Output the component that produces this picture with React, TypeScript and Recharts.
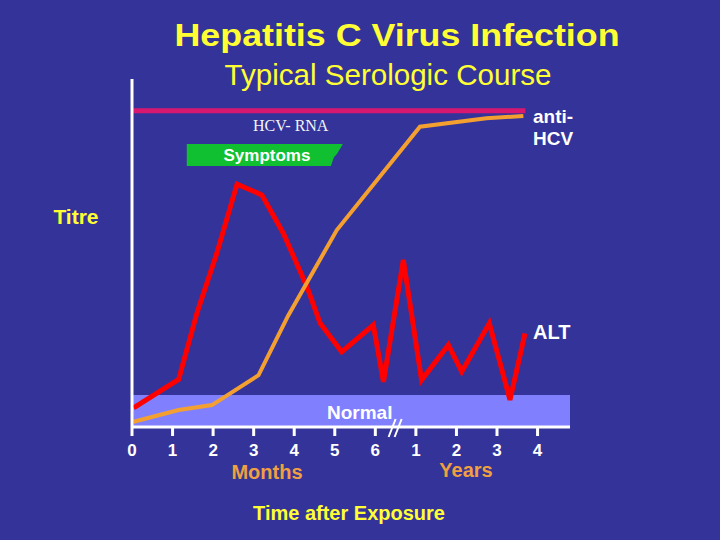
import { LineChart, Line, XAxis, YAxis, ReferenceArea, ReferenceDot } from 'recharts';

// x axis: 0-6 are months, 7-10 stand for years 1-4 after the break
const tickValues = [0, 1, 2, 3, 4, 5, 6, 7, 8, 9, 10];
const tickLabels = ['0', '1', '2', '3', '4', '5', '6', '1', '2', '3', '4'];

// ALT (red)
const altX = [0.04, 1.15, 1.6, 2.09, 2.59, 3.2, 3.73, 4.31, 4.64, 5.17, 5.95, 6.2, 6.69, 7.14, 7.8, 8.13, 8.81, 9.32, 9.69];
const altY = [5.5, 13.7, 32.7, 49.9, 69.8, 66.7, 55.7, 40.4, 29.8, 21.6, 29.3, 13.0, 48.0, 13.5, 23.6, 15.9, 29.8, 7.8, 26.9];

// anti-HCV (orange)
const antiX = [0.04, 1.15, 1.97, 3.12, 3.85, 5.05, 7.1, 8.74, 9.65];
const antiY = [1.5, 4.9, 6.3, 14.9, 32.0, 56.6, 86.3, 88.7, 89.4];

// HCV-RNA (magenta)
const rnaX = [0.03, 9.7];
const rnaY = [90.9, 90.9];

const normalX = [0, 10.8];
const normalY = [0, 9.2];
const symptomsX = [1.35, 5.2];
const symptomsY = [75, 81.3];

const toRows = (xs: number[], ys: number[]) => xs.map((x, i) => ({ x, y: ys[i] }));
const altData = toRows(altX, altY);
const antiData = toRows(antiX, antiY);
const rnaData = toRows(rnaX, rnaY);

const YELLOW = '#ffff33';
const ORANGE = '#f0a040';

const Tick = (props: any) => {
  const { x, y, payload } = props;
  return (
    <text x={x} y={y + 18} textAnchor="middle" fill="#fff" fontSize={17} fontWeight="bold">
      {tickLabels[payload.value]}
    </text>
  );
};

const SymptomsShape = (props: any) => {
  const { x, y, width, height } = props;
  const pts = [
    [x, y],
    [x + width, y],
    [x + width - 6, y + height * 0.45],
    [x + width - 9, y + height * 0.6],
    [x + width - 12, y + height],
    [x, y + height],
  ]
    .map(p => p.join(','))
    .join(' ');
  return <polygon points={pts} fill="#10c030" />;
};

const BreakMark = (props: any) => {
  const { cx, cy } = props;
  return (
    <g stroke="#fff" strokeWidth={2}>
      <line x1={cx - 7} y1={cy + 10} x2={cx} y2={cy - 8} />
      <line x1={cx - 1} y1={cy + 10} x2={cx + 6} y2={cy - 8} />
    </g>
  );
};

export default function App() {
  return (
    <div
      style={{
        position: 'absolute',
        left: 0,
        top: 0,
        width: 720,
        height: 540,
        background: '#333399',
        fontFamily: '"Liberation Sans", Arial, sans-serif',
      }}
    >
      <LineChart width={720} height={540} margin={{ top: 79, right: 150, bottom: 83, left: 131 }}>
        <XAxis
          type="number"
          dataKey="x"
          domain={[0, 10.8]}
          ticks={tickValues}
          allowDataOverflow
          height={30}
          axisLine={{ stroke: '#fff', strokeWidth: 3 }}
          tickLine={{ stroke: '#fff', strokeWidth: 3 }}
          tickSize={9}
          tick={<Tick />}
        />
        <YAxis
          type="number"
          domain={[0, 100]}
          width={1}
          tick={false}
          tickLine={false}
          axisLine={{ stroke: '#fff', strokeWidth: 3 }}
        />
        <ReferenceArea
          x1={normalX[0]}
          x2={normalX[1]}
          y1={normalY[0]}
          y2={normalY[1]}
          fill="#8080ff"
          fillOpacity={1}
          stroke="none"
          ifOverflow="visible"
        />
        <ReferenceArea
          x1={symptomsX[0]}
          x2={symptomsX[1]}
          y1={symptomsY[0]}
          y2={symptomsY[1]}
          shape={<SymptomsShape />}
        />
        <ReferenceDot x={6.5} y={0} r={0} ifOverflow="visible" shape={<BreakMark />} />
        <Line data={rnaData} dataKey="y" stroke="#d81870" strokeWidth={5} dot={false} isAnimationActive={false} />
        <Line data={altData} dataKey="y" stroke="#ff0000" strokeWidth={5} dot={false} isAnimationActive={false} />
        <Line data={antiData} dataKey="y" stroke="#f4a030" strokeWidth={4} dot={false} isAnimationActive={false} />
      </LineChart>

      <svg
        width={720}
        height={540}
        style={{ position: 'absolute', left: 0, top: 0, pointerEvents: 'none' }}
        fontFamily='"Liberation Sans", Arial, sans-serif'
      >
        <text
          x={397}
          y={46}
          textAnchor="middle"
          fill={YELLOW}
          fontSize={32}
          fontWeight="bold"
          textLength={445}
          lengthAdjust="spacingAndGlyphs"
        >
          Hepatitis C Virus Infection
        </text>
        <text
          x={388}
          y={85}
          textAnchor="middle"
          fill={YELLOW}
          fontSize={29}
          textLength={327}
          lengthAdjust="spacingAndGlyphs"
        >
          Typical Serologic Course
        </text>
        <text x={253} y={131} fill="#f4f4f4" fontSize={16} fontFamily='"Liberation Serif", "Times New Roman", serif'>
          HCV- RNA
        </text>
        <text x={267} y={161} textAnchor="middle" fill="#fff" fontSize={17} fontWeight="bold">
          Symptoms
        </text>
        <text x={533} y={123} fill="#fff" fontSize={19} fontWeight="bold">anti-</text>
        <text x={533} y={145} fill="#fff" fontSize={19} fontWeight="bold">HCV</text>
        <text x={533} y={339} fill="#fff" fontSize={20} fontWeight="bold">ALT</text>
        <text x={327} y={419} fill="#fff" fontSize={19} fontWeight="bold">Normal</text>
        <text x={76} y={224} textAnchor="middle" fill={YELLOW} fontSize={21} fontWeight="bold">Titre</text>
        <text x={267} y={479} textAnchor="middle" fill={ORANGE} fontSize={20} fontWeight="bold">Months</text>
        <text x={466} y={477} textAnchor="middle" fill={ORANGE} fontSize={20} fontWeight="bold">Years</text>
        <text x={349} y={520} textAnchor="middle" fill={YELLOW} fontSize={20} fontWeight="bold">
          Time after Exposure
        </text>
      </svg>
    </div>
  );
}
